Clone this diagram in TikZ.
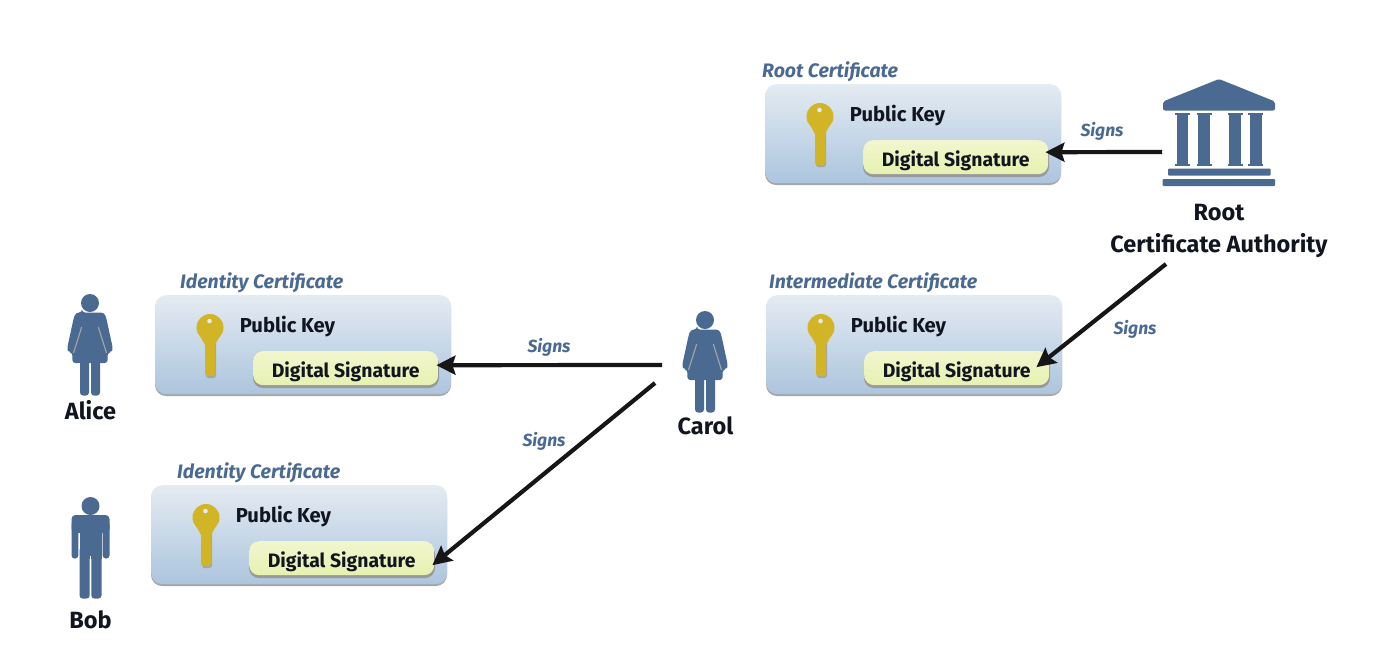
\documentclass[tikz,border=0pt]{standalone}
\usepackage{fontspec}
\setmainfont{Fira Sans}
\usetikzlibrary{arrows.meta,shadows,calc}
\definecolor{figblue}{HTML}{4B6A92}
\definecolor{keygold}{HTML}{D2B527}
\definecolor{inktext}{HTML}{10151F}
\definecolor{arrowink}{HTML}{161616}
\definecolor{boxtop}{HTML}{E4EBF2}
\definecolor{boxbot}{HTML}{ACC5DE}
\definecolor{sigtop}{HTML}{F2F6CE}
\definecolor{sigbot}{HTML}{E6F1B0}
\tikzset{
  certbox/.style={minimum width=296pt,minimum height=99pt,rounded corners=11pt,inner sep=0pt,
     top color=boxtop,bottom color=boxbot,draw=none},
  sigbox/.style={minimum width=185pt,minimum height=34pt,rounded corners=10pt,inner sep=0pt,
     text height=18pt,text depth=0pt,
     top color=sigtop,bottom color=sigbot,font=\fontsize{19.4}{21}\selectfont\bfseries,text=inktext},
  keytext/.style={font=\fontsize{20.2}{22}\selectfont\bfseries,text=inktext,inner sep=0pt},
  certtitle/.style={font=\fontsize{19.5}{21}\selectfont\bfseries\itshape,text=figblue,inner sep=0pt,anchor=west},
  signs/.style={font=\fontsize{17.5}{20}\selectfont\bfseries\itshape,text=figblue,inner sep=0pt},
  who/.style={font=\fontsize{23.5}{26}\selectfont\bfseries,text=inktext,inner sep=0pt,align=center},
  signarrow/.style={draw=arrowink,line width=4.2pt,-{Stealth[length=19pt,width=19pt,inset=3pt]}},
  shadowgrey/.style={fill=black!35,draw=none}
}
% #1 name, #2 left x, #3 top y, #4 title, #5 title x offset
\newcommand{\certificate}[5]{%
  \fill[shadowgrey,rounded corners=11pt] (#2+0,#3+2) rectangle ++(296,99);
  \node[certbox,anchor=north west] (#1box) at (#2,#3) {};
  \node[certtitle] (#1title) at (#2+#5,#3-12) {#4};
  \fill[black!35,rounded corners=2.5pt] (#2+51,#3+45) rectangle (#2+61,#3+83);
  \fill[keygold] (#2+55,#3+32.5) circle (13.5);
  \fill[keygold] (#2+44.5,#3+40) -- (#2+50,#3+50) -- (#2+60,#3+50) -- (#2+65.5,#3+40) -- cycle;
  \fill[keygold,rounded corners=2.5pt] (#2+50,#3+44) rectangle (#2+60,#3+81);
  \fill[boxtop] (#2+54.5,#3+26) circle (2.3);
  \node[keytext] (#1pk) at (#2+132.5,#3+31.5) {Public Key};
  \fill[black!40,rounded corners=10pt] (#2+98,#3+59) rectangle ++(186,34);
  \node[sigbox,anchor=north west] (#1sig) at (#2+98,#3+56) {Digital Signature};
}
% person: #1 cx, #2 top y
\newcommand{\woman}[2]{%
  \begin{scope}[shift={(#1,#2)}]
    \fill[figblue] (0,9) circle (9);
    \fill[figblue,rounded corners=3pt] (-8,18.5) -- (8,18.5) .. controls (13,18.5) and (15,20) .. (16.5,25)
      -- (23,55) -- (21,58) -- (17.5,59) -- (17.7,69) -- (-17.7,69) -- (-17.5,59) -- (-21,58) -- (-23,55) -- (-16.5,25) .. controls (-15,20) and (-13,18.5) .. (-8,18.5) -- cycle;
    \draw[black!35,line width=1.1pt] (-8.3,33) -- (-16.5,59);
    \draw[black!35,line width=1.1pt] (8.3,33) -- (16.5,59);
    \fill[figblue,rounded corners=3pt] (-10,64) rectangle (-1,101.5);
    \fill[figblue,rounded corners=3pt] (1,64) rectangle (10,101.5);
  \end{scope}}
\newcommand{\man}[2]{%
  \begin{scope}[shift={(#1,#2)}]
    \fill[figblue] (0,9) circle (9);
    \fill[figblue,rounded corners=4pt] (-19,18) rectangle (19,36);
    \fill[figblue,rounded corners=3pt] (-19,24) rectangle (-12.2,61.5);
    \fill[figblue,rounded corners=3pt] (12.2,24) rectangle (19,61.5);
    \fill[figblue] (-11,24) rectangle (11,62);
    \fill[figblue,rounded corners=3pt] (-11,50) rectangle (-0.8,101.5);
    \fill[figblue,rounded corners=3pt] (0.8,50) rectangle (11,101.5);
    \fill[white] (-0.5,59) rectangle (0.5,101.5);
  \end{scope}}
\begin{document}
\begin{tikzpicture}[x=1pt,y=-1pt]
\useasboundingbox (0,0) rectangle (1400,662);
\certificate{root}{765}{84}{Root Certificate}{-3}
\certificate{inter}{766}{295}{Intermediate Certificate}{3}
\certificate{alice}{155}{295}{Identity Certificate}{25}
\certificate{bob}{151}{485}{Identity Certificate}{26}
% bank
\fill[figblue,rounded corners=2pt] (1219,79) -- (1275,101.5) -- (1275,110.5) -- (1163,110.5) -- (1163,101.5) -- cycle;
\fill[figblue] (1175,113) rectangle (1189.5,166);
\fill[figblue] (1196.7,113) rectangle (1211.7,166);
\fill[figblue] (1227.7,113) rectangle (1242.7,166);
\fill[figblue] (1248.3,113) rectangle (1263.3,166);
\fill[white] (1175,115) rectangle (1176.5,164);
\fill[white] (1188,115) rectangle (1189.5,164);
\fill[white] (1196.7,115) rectangle (1198,164);
\fill[white] (1210.4,115) rectangle (1211.7,164);
\fill[white] (1227.7,115) rectangle (1229,164);
\fill[white] (1241.4,115) rectangle (1242.7,164);
\fill[white] (1248.3,115) rectangle (1249.6,164);
\fill[white] (1262,115) rectangle (1263.3,164);
\fill[figblue,rounded corners=1pt] (1168,168.7) rectangle (1270.7,175.7);
\fill[figblue,rounded corners=1pt] (1162.7,179) rectangle (1275,186);
\woman{90}{294}
\man{90.5}{497}
\woman{705}{311}
\node[who] (rootca) at (1219,231) {Root\\[6pt]Certificate Authority};
\node[who] (alicen) at (90.5,410) {Alice};
\node[who] (bobn) at (90.5,620) {Bob};
\node[who] (caroln) at (705.5,426) {Carol};
\coordinate (rootfrom) at (1162,152);
\coordinate (interfrom) at (1166,264);
\coordinate (carola) at (662,365);
\coordinate (carolb) at (655,383);
\draw[signarrow] (rootfrom) -- ($(rootsig.east)+(-3,-5)$);
\draw[signarrow] (interfrom) -- ($(intersig.east)+(-13,-1)$);
\draw[signarrow] (carola) -- ($(alicesig.east)+(-2,-3)$);
\draw[signarrow] (carolb) -- ($(bobsig.east)+(-2,7)$);
\node[signs] (s1) at (1102,131) {Signs};
\node[signs] (s2) at (1135,329) {Signs};
\node[signs] (s3) at (549,347) {Signs};
\node[signs] (s4) at (544,441) {Signs};
\end{tikzpicture}
\end{document}
